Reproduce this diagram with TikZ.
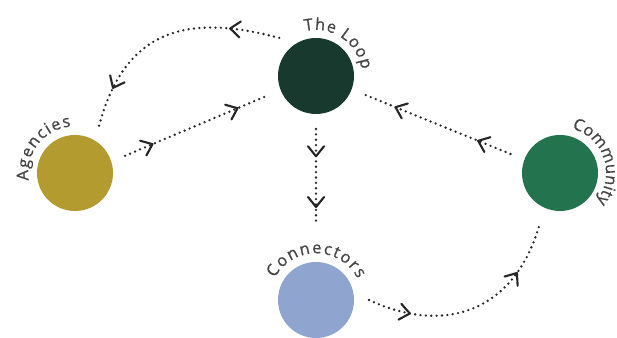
\documentclass[tikz,border=0pt]{standalone}
\usepackage{fontspec}
\setmainfont{Open Sans}
\usetikzlibrary{arrows.meta,decorations.markings,decorations.text}
\definecolor{loopgreen}{HTML}{183A2E}
\definecolor{agencygold}{HTML}{B39B2F}
\definecolor{communitygreen}{HTML}{24734F}
\definecolor{connectorblue}{HTML}{8FA5CF}
\definecolor{labelgray}{HTML}{454545}
\definecolor{dotgray}{HTML}{262626}
\newcommand{\ringfont}{\fontsize{14}{16}\selectfont\addfontfeature{FakeBold=0.8}}

\begin{document}
\begin{tikzpicture}[x=0.3mm,y=0.3mm,
  hub/.style={circle,minimum size=22.8mm,inner sep=0pt,outer sep=4.5mm},
  chev/.tip={Straight Barb[length=3mm,width=4.8mm,line width=1.8pt,round]},
  flow/.style 2 args={draw=dotgray,line width=2.2pt,line cap=round,dash pattern=on 0pt off 4.6pt,
    postaction={decorate},decoration={markings,
      mark=at position #1 with {\arrow[dotgray]{chev}},
      mark=at position #2 with {\arrow[dotgray]{chev}}}},
  ringtext/.style={decorate,decoration={text along path,text={|\ringfont|#1},
    text align={fit to path},text color=labelgray}}]
 \useasboundingbox (0,0) rectangle (617,338);
 % the four circles
 \node[hub,fill=loopgreen] (loop) at (316,262) {};
 \node[hub,fill=agencygold] (agencies) at (75,165) {};
 \node[hub,fill=communitygreen] (community) at (560,165) {};
 \node[hub,fill=connectorblue] (connectors) at (316,38) {};
 % labels round the circles
 \path[ringtext={The Loop}] (loop) ++(104:13.8mm) arc[start angle=104,end angle=8,radius=13.8mm];
 \path[ringtext={Agencies}] (agencies) ++(189:14mm) arc[start angle=189,end angle=95,radius=14mm];
 \path[ringtext={Community}] (community) ++(75:13.8mm) arc[start angle=75,end angle=-38,radius=13.8mm];
 \path[ringtext={Connectors}] (connectors) ++(152:14mm) arc[start angle=152,end angle=27,radius=14mm];
 % flows
 \draw[flow={0.22}{0.83}] (loop.134) to[out=165,in=75,looseness=1.25] (agencies.63);
 \draw[flow={0.2}{0.8}] (agencies.19) -- (loop.202);
 \draw[flow={0.24}{0.67},shorten >=7.2mm] (loop.270) -- (connectors.90);
 \draw[flow={0.23}{0.8}] (community.159) -- (loop.-21);
 \draw[flow={0.2}{0.75}] (connectors.0) to[out=-25,in=255,looseness=1.2] (community.248);
\end{tikzpicture}
\end{document}
